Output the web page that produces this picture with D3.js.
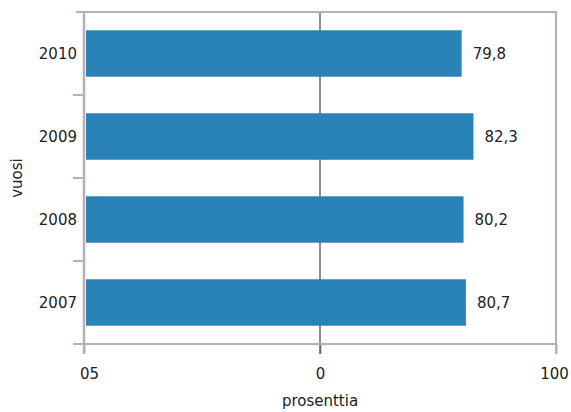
<!DOCTYPE html>
<html>
<head>
<meta charset="utf-8">
<script src="https://cdn.jsdelivr.net/npm/d3@7"></script>
<style>
  html, body { margin: 0; padding: 0; background: #fff; }
  svg text { font-family: "DejaVu Sans", sans-serif; fill: #222; }
</style>
</head>
<body>
<svg id="chart" width="571" height="412"></svg>
<script>
// Share by year (per cent)
const years = ["2010", "2009", "2008", "2007"];
const values = [79.8, 82.3, 80.2, 80.7];
const valueLabels = ["79,8", "82,3", "80,2", "80,7"];
const xTickValues = [0, 50, 100];
const xTickLabels = ["05", "0", "100"];

const W = 571, H = 412;
const margin = { top: 12, right: 15, bottom: 68, left: 84 };
const frameColor = "#bcafb4";

const svg = d3.select("#chart");

const x = d3.scaleLinear().domain([0, 100]).range([margin.left, W - margin.right]);
const y = d3.scaleBand().domain(years)
  .range([margin.top, H - margin.bottom])
  .paddingInner(0.44).paddingOuter(0.22);

// middle reference line (behind the bars)
svg.append("line")
  .attr("x1", x(50)).attr("x2", x(50))
  .attr("y1", margin.top).attr("y2", H - margin.bottom + 10)
  .attr("stroke", "#666").attr("stroke-width", 1.5);

// bars
svg.append("g").selectAll("rect").data(years).join("rect")
  .attr("x", x(0) + 2)
  .attr("y", d => y(d))
  .attr("width", (d, i) => x(values[i]) - x(0) - 1)
  .attr("height", y.bandwidth())
  .attr("fill", "#2a83b7");

// frame: top and right edges
svg.append("line")
  .attr("x1", x(0) - 8).attr("x2", x(100) + 1)
  .attr("y1", margin.top).attr("y2", margin.top)
  .attr("stroke", frameColor).attr("stroke-width", 2);
svg.append("line")
  .attr("x1", x(100)).attr("x2", x(100))
  .attr("y1", margin.top).attr("y2", H - margin.bottom + 10)
  .attr("stroke", frameColor).attr("stroke-width", 2);

// left axis line with ticks on the band boundaries
svg.append("line")
  .attr("x1", x(0)).attr("x2", x(0))
  .attr("y1", margin.top).attr("y2", H - margin.bottom + 10)
  .attr("stroke", frameColor).attr("stroke-width", 2.5);
const boundaries = years.slice(1).map(d => y(d) - y.step() * y.paddingInner() / 2);
svg.append("g").selectAll("line").data(boundaries).join("line")
  .attr("x1", x(0) - 11).attr("x2", x(0))
  .attr("y1", d => d).attr("y2", d => d)
  .attr("stroke", frameColor).attr("stroke-width", 2);

// bottom axis
const xAxis = d3.axisBottom(x)
  .tickValues(xTickValues)
  .tickFormat((d, i) => xTickLabels[i])
  .tickSize(10).tickPadding(14).tickSizeOuter(0);
const gx = svg.append("g")
  .attr("transform", `translate(0,${H - margin.bottom})`)
  .call(xAxis);
gx.select(".domain").remove();
gx.selectAll(".tick line")
  .attr("stroke", (d) => d === 50 ? "#666" : frameColor)
  .attr("stroke-width", d => d === 50 ? 1.5 : 2);
gx.selectAll(".tick text")
  .attr("font-size", 15)
  .attr("fill", "#222")
  .style("font-family", "DejaVu Sans, sans-serif")
  .attr("dx", d => d === 0 ? 5 : (d === 100 ? -2 : 0));
svg.append("line")
  .attr("x1", x(0) - 11).attr("x2", x(100) + 1)
  .attr("y1", H - margin.bottom).attr("y2", H - margin.bottom)
  .attr("stroke", frameColor).attr("stroke-width", 2);

// year labels
svg.append("g").selectAll("text").data(years).join("text")
  .attr("x", x(0) - 7)
  .attr("y", d => y(d) + y.bandwidth() / 2)
  .attr("dy", "0.35em")
  .attr("text-anchor", "end")
  .attr("font-size", 15)
  .text(d => d);

// value labels
svg.append("g").selectAll("text").data(years).join("text")
  .attr("x", (d, i) => x(values[i]) + 12)
  .attr("y", d => y(d) + y.bandwidth() / 2)
  .attr("dy", "0.35em")
  .attr("font-size", 15)
  .text((d, i) => valueLabels[i]);

// axis titles
svg.append("text")
  .attr("x", x(50)).attr("y", 406)
  .attr("text-anchor", "middle")
  .attr("font-size", 15)
  .text("prosenttia");
svg.append("text")
  .attr("transform", `translate(22,${(margin.top + H - margin.bottom) / 2}) rotate(-90)`)
  .attr("text-anchor", "middle")
  .attr("font-size", 15)
  .text("vuosi");
</script>
</body>
</html>
